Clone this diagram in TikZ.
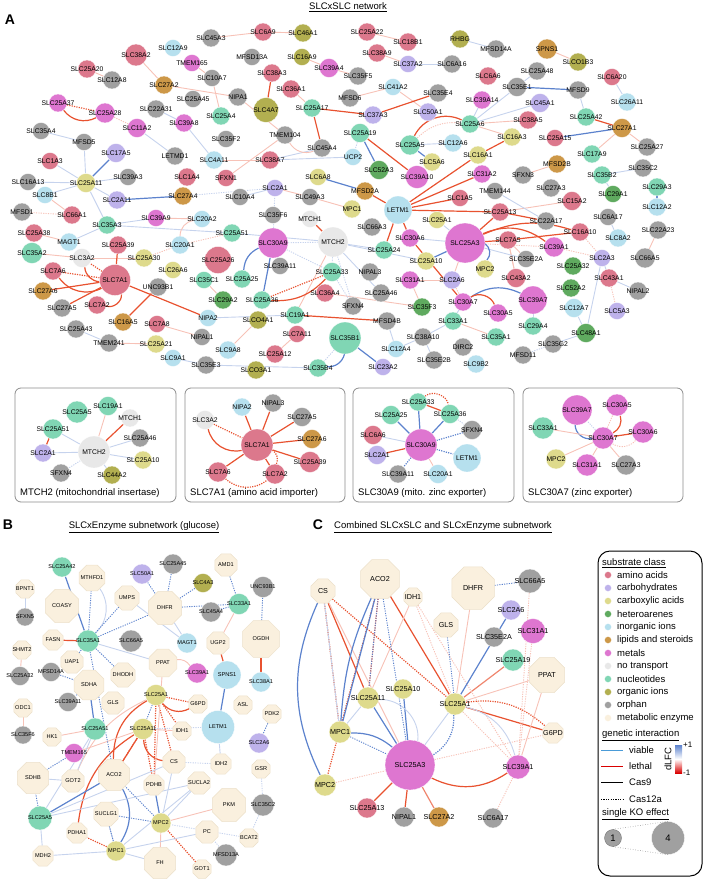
\documentclass[tikz,border=0pt]{standalone}
\usepackage{fontspec}
\setmainfont{Liberation Sans}
\usetikzlibrary{shapes.geometric,backgrounds}
\definecolor{caa}{RGB}{220,120,140}
\definecolor{cch}{RGB}{190,178,235}
\definecolor{cca}{RGB}{222,218,140}
\definecolor{cha}{RGB}{95,170,95}
\definecolor{cii}{RGB}{182,224,238}
\definecolor{cls}{RGB}{205,152,72}
\definecolor{cme}{RGB}{222,118,208}
\definecolor{cnt}{RGB}{232,232,232}
\definecolor{cnu}{RGB}{128,214,180}
\definecolor{coi}{RGB}{178,175,80}
\definecolor{cor}{RGB}{160,160,160}
\definecolor{cen}{RGB}{250,240,222}
\definecolor{cenb}{RGB}{236,224,202}
\definecolor{vblue}{RGB}{92,130,205}
\definecolor{lred}{RGB}{232,82,48}
\begin{document}
\begin{tikzpicture}[x=1pt, y=-1pt,
  dot/.style={circle, inner sep=0pt, draw=white, line width=0.3pt},
  enz/.style={regular polygon, regular polygon sides=8, inner sep=0pt,
    fill=cen, draw=cenb, line width=0.5pt},
  lbla/.style={inner sep=0pt, font=\fontsize{6.8}{7}\selectfont},
  lblb/.style={inner sep=0pt, font=\fontsize{5.6}{6}\selectfont},
  lblc/.style={inner sep=0pt, font=\fontsize{7.2}{8}\selectfont},
  txt/.style={inner sep=0pt, font=\fontsize{9.5}{11}\selectfont},
  tag/.style={inner sep=0pt, font=\fontsize{14}{16}\selectfont\bfseries},
  vst/.style={draw=vblue, line width=1.2pt},
  vlt/.style={draw=vblue!35, line width=0.9pt},
  lst/.style={draw=lred, line width=1.2pt},
  llt/.style={draw=lred!35, line width=0.9pt},
  lmd/.style={draw=lred!70, line width=1.2pt},
  cas/.style={dash pattern=on 1.2pt off 1.2pt},
  inset/.style={draw=black!45, line width=0.8pt, rounded corners=6pt}
]
\useasboundingbox (0,0) rectangle (705,880);

\node[tag] (tagA) at (10,20) {A};
\node[txt] (titleA) at (348,7) {\underline{SLCxSLC network}};

\foreach \t/\x/\y/\c/\s in {
SLC45A3/211/38/cor/18, SLC12A9/173/48/cii/17, SLC38A2/136/55/caa/22,
TMEM165/192/63/cme/17, SLC25A20/87/69/caa/18, SLC12A8/112/80/cor/18,
SLC10A7/212/78/cor/17, SLC27A2/164/85/cls/18, SLC25A45/193/99/cor/17,
NIPA1/238/97/cor/18, SLC25A37/58/103/cme/18, SLC25A28/105/113/cme/20,
SLC22A31/156/109/cor/18, SLC39A8/184/123/cme/18, SLC25A4/221/116/cnu/18,
SLC11A2/137/128/cme/19, SLC35A4/41/131/cor/17, MFSD5/84/142/cor/17,
SLC17A5/116/153/cch/19, LETMD1/175/156/cor/18, SLC35F2/226/139/cor/17,
SLC1A3/50/161/caa/17, SLC4A11/214/160/cii/18, SLC1A4/187/177/caa/18,
SFXN1/226/178/caa/17, SLC16A13/28/182/cor/17, SLC25A11/86/183/cca/19,
SLC39A3/128/177/cor/17, SLC8B1/45/195/cii/17, SLC2A11/117/200/cch/18,
SLC27A4/183/196/cls/18,
SLC6A9/263/32/caa/18, SLC46A1/303/33/coi/18, SLC25A22/367/32/caa/18,
SLC18B1/408/42/caa/18, RHBG/460/39/coi/18, MFSD13A/252/57/cor/17,
SLC16A9/302/57/coi/17, SLC38A9/377/53/caa/18, SLC37A2/408/64/cch/17,
SLC6A16/452/64/cor/18, SLC38A3/272/73/caa/18, SLC39A4/329/68/cme/19,
SLC35F5/358/76/cor/18, SLC36A1/291/89/caa/18, SLC41A2/393/87/cii/17,
SLC35E4/438/93/cor/18, MFSD6/350/98/cor/18, SLC4A7/266/110/coi/25,
SLC25A17/312/108/cnu/18, SLC37A3/373/115/cch/18, SLC50A1/428/112/cch/18,
TMEM104/285/135/cor/18, SLC25A19/360/133/cnu/19, SLC45A4/322/148/cor/18,
SLC25A5/410/145/cnu/20, SLC12A6/453/143/cii/18, SLC38A7/270/160/caa/18,
UCP2/353/157/cii/17, SLC5A6/432/162/cca/18, SLC52A3/379/170/cha/19,
SLC6A8/318/177/cca/17, SLC39A10/417/177/cme/23, SLC2A1/275/188/cch/17,
SLC49A3/310/197/cor/17, MFSD2A/365/191/cls/18,
MFSD14A/496/49/cor/18, SPNS1/547/49/cls/20, SLCO1B3/578/62/coi/18,
SLC6A6/488/76/caa/18, SLC25A48/537/71/cor/18, SLC6A20/612/77/caa/17,
SLC35E1/517/87/cor/19, MFSD9/578/90/cor/18, SLC39A14/482/100/cme/18,
SLC45A1/540/103/cch/19, SLC26A11/627/102/cii/18, SLC25A6/470/124/cnu/18,
SLC38A5/528/120/caa/18, SLC25A42/586/117/cnu/18, SLC27A1/622/128/cls/19,
SLC16A3/512/137/cca/18, SLC25A15/555/138/caa/17, SLC25A27/647/147/cor/18,
SLC16A1/478/155/cca/18, SLC17A9/592/154/cnu/18, SLC31A2/482/174/cme/18,
SFXN3/523/175/cor/18, MFSD2B/557/164/cls/18, SLC35B2/602/175/cnu/18,
SLC35C2/643/168/cor/18, TMEM144/495/191/cor/17, SLC27A3/551/188/cor/18,
SLC29A1/613/194/cha/17, SLC29A3/657/187/cnu/18, SLC15A2/572/201/caa/19,
MFSD1/22/212/cor/18, SLC66A1/72/215/caa/18, SLC35A3/107/225/cnu/18,
SLC39A9/156/218/cme/17, SLC20A2/202/219/cii/17, SLC25A38/34/233/caa/18,
MAGT1/69/242/cii/18, SLC25A39/118/245/caa/18, SLC20A1/180/245/cii/18,
SLC25A51/232/233/cnu/18, SLC35A2/32/253/cnu/21, SLC3A2/82/258/cnt/19,
SLC25A30/144/258/cca/18, SLC25A26/218/260/caa/27, SLC7A6/53/271/caa/18,
SLC7A1/115/280/caa/31, SLC26A6/173/270/cca/17, SLC35C1/204/280/cnu/17,
UNC93B1/158/287/cor/18, SLC27A6/43/291/cls/18, SLC29A2/223/300/cha/18,
SLC27A5/62/308/cor/18, SLC7A2/97/305/caa/18, NIPA2/208/318/cii/17,
SLC16A5/123/322/cls/18, SLC7A8/157/324/caa/17, SLC25A43/76/329/cor/18,
NIPAL1/202/337/cor/17, TMEM241/109/343/cor/18, SLC25A21/156/344/cca/18,
SLC9A8/228/350/cii/18, SLC9A1/173/358/cii/17, SLC35E3/206/365/cor/18,
SLC10A4/240/197/cor/17, SLC35F6/273/215/cor/17, MTCH1/310/219/cnt/17,
MPC1/352/209/cca/18, LETM1/398/210/cii/28, SLC66A3/372/227/cor/18,
SLC1A5/460/198/caa/17, SLC25A1/437/220/cca/17, SLC30A9/273/243/cme/30,
MTCH2/333/242/cnt/30, SLC30A6/410/238/cme/18, SLC25A3/465/243/cme/40,
SLC25A24/384/250/cnu/18, SLC25A10/426/261/cca/18, SLC39A11/280/266/cor/17,
SLC25A25/242/279/cnu/18, SLC25A33/332/272/cnu/19, NIPAL3/370/272/cor/18,
SLC31A1/410/280/cme/18, SLC2A6/452/280/cch/18, SLC25A46/381/293/cor/18,
SLC36A4/325/293/caa/18, SLC25A36/262/300/cnu/18, SFXN4/353/306/cor/18,
SLC35F3/422/307/cha/18, SLC30A7/463/302/cme/18, SLC19A1/295/315/cnu/18,
SLCO4A1/258/320/coi/18, MFSD4B/387/321/cor/18, SLC33A1/453/321/cnu/18,
SLC7A11/297/334/caa/17, SLC35B1/345/338/cnu/32, SLC38A10/423/337/cor/18,
DIRC2/463/347/cor/18, SLC25A12/275/354/caa/18, SLC12A4/396/349/cii/17,
SLC35E2B/434/360/cor/18, SLCO3A1/256/370/coi/18, SLC35B4/318/368/cnu/18,
SLC23A2/383/367/cch/17,
SLC12A2/657/207/cii/18, SLC25A13/500/212/caa/18, SLC22A17/546/221/cor/18,
SLC6A17/608/217/cor/17, SLC22A23/658/230/cor/18, SLC16A10/580/232/caa/18,
SLC7A5/508/240/caa/18, SLC8A2/618/238/cii/18, SLC39A1/554/247/cme/20,
SLC35E2A/526/259/cor/17, SLC2A3/602/258/cch/17, SLC66A5/645/258/cor/20,
MPC2/485/269/cca/18, SLC25A32/573/266/cha/18, SLC43A2/516/278/caa/19,
SLC43A1/609/278/caa/18, SLC52A2/571/288/cha/18, NIPAL2/638/291/cor/18,
SLC39A7/533/300/cme/28, SLC12A7/574/308/cii/19, SLC30A5/498/313/cme/18,
SLC5A3/617/311/cch/17, SLC29A4/533/326/cnu/18, SLC35A1/496/337/cnu/18,
SLC48A1/586/333/cha/19, SLC35G2/553/344/cor/18, MFSD11/523/355/cor/18,
SLC9B2/476/364/cii/18}
  \node[dot, fill=\c, minimum size=\s, label={[lbla]center:\t}] (a-\t) at (\x,\y) {};

\draw[inset] (15,388) rectangle (176,502);
\draw[inset] (185,388) rectangle (345,502);
\draw[inset] (353,388) rectangle (514,502);
\draw[inset] (523,388) rectangle (683,502);
\node[txt, anchor=west] (cap1) at (20,493) {MTCH2 (mitochondrial insertase)};
\node[txt, anchor=west] (cap2) at (190,493) {SLC7A1 (amino acid importer)};
\node[txt, anchor=west] (cap3) at (358,493) {SLC30A9 (mito. zinc exporter)};
\node[txt, anchor=west] (cap4) at (528,493) {SLC30A7 (zinc exporter)};

\foreach \t/\x/\y/\c/\s in {
SLC19A1/108/406/cnu/19, SLC25A5/77/412/cnu/22, MTCH1/130/418/cnt/18,
SLC25A51/53/429/cnu/20, SLC25A46/140/438/cor/18, SLC2A1/43/453/cch/18,
MTCH2/94/452/cnt/32, SLC25A10/143/460/cca/18, SFXN4/61/473/cor/18,
SLC44A2/112/475/coi/18}
  \node[dot, fill=\c, minimum size=\s, label={[lbla]center:\t}] (i1-\t) at (\x,\y) {};
\foreach \t/\x/\y/\c/\s in {
NIPA2/242/407/cii/18, NIPAL3/273/403/cor/18, SLC3A2/205/420/cnt/19,
SLC27A5/302/417/cor/19, SLC7A1/257/445/caa/32, SLC27A6/312/439/cls/19,
SLC25A39/310/462/caa/21, SLC7A6/218/472/caa/20, SLC7A2/275/474/caa/20}
  \node[dot, fill=\c, minimum size=\s, label={[lbla]center:\t}] (i2-\t) at (\x,\y) {};
\foreach \t/\x/\y/\c/\s in {
SLC25A33/418/402/cnu/18, SLC25A25/391/415/cnu/19, SLC25A36/450/414/cnu/19,
SFXN4/472/430/cor/19, SLC6A6/373/435/caa/19, SLC30A9/421/445/cme/32,
SLC2A1/377/455/cch/19, LETM1/467/458/cii/28, SLC39A11/398/474/cor/18,
SLC20A1/438/474/cii/19}
  \node[dot, fill=\c, minimum size=\s, label={[lbla]center:\t}] (i3-\t) at (\x,\y) {};
\foreach \t/\x/\y/\c/\s in {
SLC39A7/577/410/cme/30, SLC30A5/617/405/cme/22, SLC33A1/543/428/cnu/22,
SLC30A7/603/438/cme/22, SLC30A6/643/432/cme/22, MPC2/556/459/cca/20,
SLC31A1/587/465/cme/22, SLC27A3/626/465/cor/20}
  \node[dot, fill=\c, minimum size=\s, label={[lbla]center:\t}] (i4-\t) at (\x,\y) {};

\node[tag] (tagB) at (8,525) {B};
\node[txt] (titleB) at (144,527) {\underline{SLCxEnzyme subnetwork (glucose)}};
\foreach \t/\x/\y/\c/\s in {
SLC25A42/62/567/cnu/20, SLC25A45/173/564/cor/20, SLC50A1/142/574/cch/20,
SLC4A3/203/583/coi/19, UNC93B1/263/587/cor/21, SLC33A1/239/604/cnu/21,
SLC45A4/211/612/cor/20, SFXN5/25/617/cor/18, SLC35A1/88/641/cnu/22,
SLC66A5/131/641/cor/22, MAGT1/187/643/cii/20, SLC25A32/20/676/cor/19,
MFSD14A/51/672/cor/19, SLC39A1/197/673/cme/20, SPNS1/227/675/cii/28,
SLC38A1/261/682/cii/20, SLC25A1/156/695/cca/21, SLC39A11/68/702/cor/19,
SLC25A11/143/729/cca/21, LETM1/218/727/cii/33, SLC25A51/95/729/cnu/22,
SLC35F6/23/735/cor/18, SLC2A6/259/743/cch/20, TMEM165/74/753/cme/19,
SLC35C2/263/805/cor/22, SLC25A5/40/818/cnu/24, MPC2/161/823/cca/20,
MPC1/116/851/cca/20, MFSD13A/226/855/cor/22}
  \node[dot, fill=\c, minimum size=\s, label={[lblb]center:\t}] (b-\t) at (\x,\y) {};
\foreach \t/\x/\y/\s in {
MTHFD1/92/578/28, AMD1/226/565/24, BPNT1/25/589/20, COASY/62/606/36,
UMPS/127/598/26, DHFR/165/608/36, FASN/53/640/22, UGP2/218/643/24,
OGDH/261/639/40, SHMT2/22/650/20, UAP1/72/662/24, PPAT/163/663/30,
DHODH/123/675/26, SDHA/89/685/32, G6PD/198/704/20, ASL/243/705/20,
PDK2/272/714/20, GLS/113/703/24, ODC1/23/708/20, IDH1/182/731/20,
HK1/52/737/20, CS/174/762/24, IDH2/221/764/22, GSR/261/769/20,
SDHB/33/778/34, GOT2/73/781/24, ACO2/114/775/34, PDHB/154/785/22,
SUCLA2/199/783/24, PKM/229/805/36, SUCLG1/106/814/26, PDHA1/77/833/22,
PC/207/832/24, BCAT2/249/838/20, MDH2/43/856/22, FH/160/863/34, GOT1/202/869/20}
  \node[enz, minimum size=\s, label={[lblb]center:\t}] (b-\t) at (\x,\y) {};

\node[tag] (tagC) at (318,525) {C};
\node[txt] (titleC) at (443,527) {\underline{Combined SLCxSLC and SLCxEnzyme subnetwork}};
\foreach \t/\x/\y/\c/\s in {
SLC66A5/530/581/cor/24, SLC2A6/511/610/cch/20, SLC35E2A/494/637/cor/20,
SLC31A1/533/631/cme/25, SLC25A19/513/660/cnu/22, SLC25A10/403/689/cca/20,
SLC25A11/368/698/cca/22, SLC25A1/455/704/cca/22, SLC25A3/410/765/cme/50,
SLC39A1/518/767/cme/24, SLC25A13/367/808/caa/20, NIPAL1/404/817/cor/20,
SLC27A2/439/817/cls/20, SLC6A17/493/818/cor/20, MPC1/340/732/cca/22,
MPC2/325/785/cca/22}
  \node[dot, fill=\c, minimum size=\s, label={[lblc]center:\t}] (c-\t) at (\x,\y) {};
\foreach \t/\x/\y/\s in {
CS/323/591/26, ACO2/380/579/42, IDH1/413/597/20, DHFR/473/588/46,
GLS/446/625/26, PPAT/547/675/38, G6PD/553/733/22}
  \node[enz, minimum size=\s, label={[lblc]center:\t}] (c-\t) at (\x,\y) {};

\draw[line width=1pt, rounded corners=12pt] (598,551) rectangle (702,876);
\node[txt, anchor=west] (keyhead) at (602,563) {\underline{substrate class}};
\foreach \c/\t [count=\i] in {caa/amino acids, cch/carbohydrates,
  cca/carboxylic acids, cha/heteroarenes, cii/inorganic ions,
  cls/lipids and steroids, cme/metals, cnt/no transport, cnu/nucleotides,
  coi/organic ions, cor/orphan, cen/metabolic enzyme} {
  \node[dot, fill=\c, minimum size=7] (key\i) at (608,562+13*\i) {};
  \node[txt, anchor=west] (keyt\i) at (617,562+13*\i) {\t};
}
\node[txt, anchor=west] (gihead) at (602,735) {\underline{genetic interaction}};
\coordinate (v0) at (601,750); \coordinate (v1) at (623,750);
\coordinate (l0) at (601,766); \coordinate (l1) at (623,766);
\coordinate (k0) at (601,782); \coordinate (k1) at (623,782);
\coordinate (d0) at (601,799); \coordinate (d1) at (623,799);
\draw[draw=vblue!80!cyan, line width=1pt] (v0) -- (v1);
\draw[draw=red!85!black, line width=1pt] (l0) -- (l1);
\draw[line width=1pt] (k0) -- (k1);
\draw[line width=1pt, cas] (d0) -- (d1);
\node[txt, anchor=west] (vtxt) at (629,750) {viable};
\node[txt, anchor=west] (ltxt) at (629,766) {lethal};
\node[txt, anchor=west] (ktxt) at (629,782) {Cas9};
\node[txt, anchor=west] (dtxt) at (629,799) {Cas12a};
\shade[top color=vblue, bottom color=red!85!black, middle color=white] (675,745) rectangle (682,773);
\node[txt, rotate=90] (dlfc) at (668,759) {dLFC};
\node[txt, anchor=west, font=\fontsize{8}{9}\selectfont] (pone) at (683,745) {+1};
\node[txt, anchor=west, font=\fontsize{8}{9}\selectfont] (mone) at (683,773) {-1};
\node[txt, anchor=west] (kohead) at (602,814) {\underline{single KO effect}};
\node[dot, fill=cor, draw=black!60, minimum size=17] (ko1) at (613,838) {};
\node[txt] at (ko1) {1};
\node[dot, fill=cor, minimum size=33] (ko4) at (668,838) {};
\node[txt] at (ko4) {4};
\draw[black!60, line width=0.5pt, dotted] (ko1.north) -- (ko4.north);
\draw[black!60, line width=0.5pt, dotted] (ko1.south) -- (ko4.south);

\begin{pgfonlayer}{background}
\foreach \u/\v in {SLC45A3/SLC6A9, SLC6A9/SLC46A1, SLC38A2/SLC27A2,
  SLC25A20/SLC12A8, TMEM165/SLC10A7, SLC10A7/SLC25A4, SLC27A2/NIPA1,
  NIPA1/TMEM104, SLC25A22/SLC18B1, SLC38A9/SLC37A2, SLC16A9/SLC39A4,
  SLC39A4/SLC35F5, SLC36A1/SLC25A17, SLC41A2/MFSD6, SLC41A2/SLC50A1,
  TMEM104/SFXN1, SLC4A11/SLC38A7, SPNS1/SLCO1B3, SLC25A6/SLC38A5,
  SLC25A6/SLC16A3, SLC27A1/SLC25A27, SLC27A1/SLC17A9, SFXN3/MFSD2B,
  SLC2A1/SLC49A3, SLC3A2/SLC25A30, SLC35A2/SLC3A2, SLC25A38/MAGT1,
  SLC39A9/SLC20A2, SLC7A8/NIPAL1, TMEM241/SLC25A21, SLC66A1/SLC8B1,
  SLC35C1/SLC29A2, SLC31A1/SLC2A6, SLC36A4/SLC35F3, SLCO4A1/SLC9A8,
  SLC22A23/SLC66A5, SLC7A5/SLC43A2, SLC35A1/SLC33A1, SLC25A13/SLC15A2,
  SLC49A3/MPC1, MTCH2/SLC19A1, SLC7A11/SLC25A12, SLC35F3/SLC31A1,
  SLC43A2/SLC7A5, SLC25A3/SLC2A6, SLC7A5/SLC35E2A}
  \draw[llt] (a-\u) -- (a-\v);
\foreach \u/\v in {SLC38A3/SLC4A7, SLC25A17/SLC37A3, SLC25A17/SLC45A4,
  SLC35E4/SLC37A3, SLC25A19/SLC39A10, SLC25A42/SLC27A1, SLC16A3/SLC16A1,
  SLC16A1/LETM1, MFSD2A/LETM1, LETM1/SLC31A2, LETM1/SLC1A5, LETM1/SLC25A13,
  LETM1/SLC30A6, LETM1/SLC25A24, SLC25A3/SLC25A13, SLC25A3/SLC7A5,
  SLC25A13/SLC22A17, SLC7A5/SLC16A10, SLC19A1/MFSD4B, MTCH2/MTCH1,
  SLC7A1/SLC27A6, SLC7A1/SLC27A5, SLC7A1/SLC25A39, SLC7A1/NIPA2,
  SLC16A5/UNC93B1, SLC30A6/SLC30A7}
  \draw[lst] (a-\u) -- (a-\v);
\foreach \u/\v in {SLC35E1/MFSD9, SLC27A1/SLC25A15, SLC25A19/SLC52A3,
  SLC25A5/SLC5A6, SLC6A8/MFSD2A, SLC17A5/SLC25A11, SLC27A4/SLC2A11,
  SLC30A9/SLC25A36, SLC35B1/SLC23A2, SLC25A10/SLC25A3, SLC29A3/SLC12A2}
  \draw[vst] (a-\u) -- (a-\v);
\foreach \u/\v in {SLC35E1/SLC25A48, SLC35E1/SLC25A6, SLC25A6/SLC39A14,
  SLC25A6/SLC45A1, SLC6A20/SLC26A11, MFSD9/SLC25A42, SLC35B2/SLC35C2,
  SLC35B2/SLC29A1, RHBG/MFSD14A, SLC37A2/SLC6A16, SLC38A7/UCP2,
  SLC22A31/SLC39A8, SLC11A2/LETMD1, SLC39A8/SLC4A11, SLC35A4/MFSD5,
  MFSD5/SLC25A11, SLC1A3/SLC25A11, SLC16A13/SLC25A11, SLC39A3/SLC25A11,
  SLC8B1/SLC25A11, SLC2A11/SLC25A11, SLC25A11/SLC35A3, MAGT1/SLC35A3,
  SLC25A43/TMEM241, SLC9A1/SLC35E3, SLC35E3/SLC35B4, NIPA2/SLC19A1,
  SLC30A9/SLC39A11, MTCH2/SLC25A46, MTCH2/SLC25A10, MTCH2/SLC25A51,
  SLC38A10/SLC35E2B, SLC38A10/SLC12A4, MFSD4B/SLC12A4, SLC39A7/SLC29A4,
  SLC12A7/SLC48A1, SLC48A1/SLC35G2, SLC48A1/SLC2A3, SLC2A3/SLC43A1,
  SLC43A1/NIPAL2, SLC6A17/SLC8A2, SLC38A10/SLC33A1, SLC25A1/SLC25A3,
  SLC12A6/SLC25A5, TMEM144/SLC22A17, SLC35A3/SLC39A9, SLC35A3/SLC25A51,
  MTCH2/SLC25A24, SLC38A7/SLC45A4, SLC2A1/SLC10A4, SLC25A3/SLC30A6,
  SLC30A7/SLC33A1, SLC25A3/SLC35E2A}
  \draw[vlt] (a-\u) -- (a-\v);
\foreach \u/\v in {SLC25A28/SLC11A2, MFSD1/SLC66A1, SLC43A1/SLC5A3,
  SLC20A1/SLC25A51, SLC25A3/SLC39A1, SLC16A10/SLC2A3, SLC39A1/SLC2A3,
  SLC2A6/SLC30A7, SLC25A30/SLC20A1}
  \draw[llt, cas] (a-\u) -- (a-\v);
\foreach \u/\v in {SLC7A1/SLC3A2, SLC7A1/SLC7A6, SLC25A37/SLC25A28,
  SLC25A33/SLC25A36}
  \draw[lst, cas] (a-\u) -- (a-\v);
\foreach \u/\v in {SLC30A9/SLC2A1, SLC30A9/MTCH2, MTCH2/SFXN4,
  SLC35G2/MFSD11, MTCH2/SLC25A33, SLC25A19/UCP2, SLC30A9/SLC25A33,
  SLC27A4/SLC2A1, SLC25A33/SFXN4, SLC35B1/SLC35B4}
  \draw[vlt, cas] (a-\u) -- (a-\v);
\draw[lst] (a-SLC25A37) to[bend right=40] (a-SLC25A28);
\draw[lst] (a-SLC7A6) to[bend right=40] (a-SLC7A1);
\draw[lst] (a-SLC7A1) to[bend left=60] (a-SLC7A2);
\draw[lst] (a-SLC3A2) to[bend right=40] (a-SLC7A1);
\draw[lst] (a-SLC25A33) to[bend left=25] (a-SLC25A36);
\draw[vst] (a-SLC30A9) to[bend right=30] (a-SLC25A25);
\draw[vst] (a-SLC35B1) to[bend left=40] (a-SLC35B4);
\draw[vst] (a-SLC30A7) to[bend left=30] (a-SLC39A7);
\draw[lst] (a-SLC30A7) to[bend left=50] (a-SLC30A5);
\draw[vst] (a-SLC25A3) to[bend left=50] (a-MPC2);
\draw[lst] (a-SLC25A3) to[bend left=20] (a-SLC16A10);
\draw[lst] (a-SLC25A3) to[bend left=30] (a-SLC39A1);
\draw[lst] (a-SLC25A5) to[bend left=45] (a-SLC25A6);
\draw[llt, cas] (a-SLC25A5) to[bend left=25] (a-SLC25A6);
\draw[llt] (a-TMEM104) to[bend right=40] (a-SLC45A4);
\draw[llt] (a-SLC20A2) to[bend right=40] (a-SLC20A1);

\draw[lst] (i1-MTCH2) -- (i1-MTCH1);
\draw[lst] (i1-SLC25A51) -- (i1-SLC2A1);
\draw[llt] (i1-MTCH2) -- (i1-SLC19A1);
\foreach \v in {SLC25A46, SLC25A10, SLC25A51, SLC2A1, SLC44A2}
  \draw[vlt] (i1-MTCH2) -- (i1-\v);
\draw[vlt, cas] (i1-MTCH2) -- (i1-SFXN4);

\foreach \v in {NIPA2, NIPAL3, SLC27A5, SLC27A6, SLC25A39, SLC7A2, SLC7A6}
  \draw[lst] (i2-SLC7A1) -- (i2-\v);
\draw[lst, cas] (i2-SLC3A2) -- (i2-SLC7A1);
\draw[lst] (i2-SLC3A2) to[bend right=45] (i2-SLC7A1);
\draw[lst, cas] (i2-SLC7A6) to[bend right=40] (i2-SLC7A2);
\draw[lst, cas] (i2-SLC7A1) to[bend left=40] (i2-SLC7A2);

\foreach \v in {SLC25A33, SLC25A25, SLC25A36}
  \draw[vst] (i3-SLC30A9) -- (i3-\v);
\draw[vlt] (i3-SLC30A9) -- (i3-SLC6A6);
\draw[lst] (i3-SLC30A9) -- (i3-SLC2A1);
\draw[llt] (i3-SLC30A9) -- (i3-SLC20A1);
\foreach \v in {SLC39A11, LETM1, SFXN4}
  \draw[vst, cas] (i3-SLC30A9) -- (i3-\v);
\draw[lst] (i3-SLC25A33) -- (i3-SLC25A36);
\draw[lst, cas] (i3-SLC25A33) to[bend left=60] (i3-SLC25A36);
\draw[vlt, cas] (i3-SLC25A36) -- (i3-SFXN4);

\draw[vst] (i4-SLC30A7) to[bend left=50] (i4-SLC39A7);
\draw[vlt, cas] (i4-SLC30A7) -- (i4-SLC39A7);
\draw[lst] (i4-SLC30A7) to[bend right=40] (i4-SLC30A5);
\draw[llt, cas] (i4-SLC30A7) -- (i4-SLC30A5);
\draw[lst] (i4-SLC30A7) -- (i4-SLC30A6);
\draw[llt, cas] (i4-SLC30A7) to[bend right=40] (i4-SLC30A6);
\foreach \v in {SLC33A1, MPC2, SLC31A1, SLC27A3}
  \draw[llt] (i4-SLC30A7) -- (i4-\v);

\foreach \u/\v in {FASN/SLC35A1, UGP2/SPNS1, OGDH/SLC38A1, SLC25A11/ACO2}
  \draw[lst] (b-\u) -- (b-\v);
\draw[lst] (b-SLC25A1) to[bend right=40] (b-G6PD);
\draw[lst] (b-SLC25A1) to[bend right=30] (b-ACO2);
\draw[lst] (b-SLC25A11) to[bend right=40] (b-CS);
\draw[lst] (b-SLC25A11) to[bend right=25] (b-PDHA1);
\foreach \u/\v in {SLC25A1/G6PD, SLC25A1/CS, SLC25A1/IDH1, SLC25A11/PDHB,
  MPC2/GOT1, MPC1/PDHA1, SLC25A1/PDHB, SLC25A11/ACO2}
  \draw[lst, cas] (b-\u) -- (b-\v);
\foreach \u/\v in {SHMT2/SLC25A32, ODC1/SLC35F6, HK1/SLC25A51, SLC33A1/UGP2,
  SLC25A11/IDH1, MPC2/PKM, PPAT/PDHB, TMEM165/SLC25A11, MPC2/FH}
  \draw[llt] (b-\u) -- (b-\v);
\draw[llt] (b-PPAT) to[bend left=30] (b-SLC39A1);
\draw[llt] (b-GOT2) to[bend left=20] (b-SLC25A1);
\foreach \u/\v in {SLC25A42/SLC35A1, SPNS1/LETM1, SLC25A51/SDHA,
  MPC2/PDHB, SLC25A5/ACO2}
  \draw[vst] (b-\u) -- (b-\v);
\draw[vst] (b-MPC1) to[bend right=30] (b-ACO2);
\draw[vlt] (b-SLC35A1) to[bend right=40] (b-MTHFD1);
\foreach \u/\v in {BPNT1/SFXN5, UMPS/MAGT1, DHFR/MAGT1, LETM1/IDH2,
  SLC25A51/SLC25A5, SLC25A5/MDH2, SLC25A5/CS, SLC25A5/SUCLA2, MPC1/MDH2,
  MPC1/FH, MPC1/PC, MPC1/SUCLA2, MPC2/SUCLA2, SDHB/GOT2, MPC2/CS,
  SLC35A1/PPAT, SLC25A51/GOT2, MPC1/SUCLG1}
  \draw[vlt] (b-\u) -- (b-\v);
\foreach \u/\v in {SLC35A1/UMPS, SLC35A1/DHFR, SLC50A1/DHFR, SLC25A45/DHFR,
  SLC4A3/DHFR, DHFR/SLC33A1, SLC45A4/SLC33A1, AMD1/SLC33A1, UNC93B1/OGDH,
  TMEM165/SDHB, SLC25A5/SDHB, MPC1/SUCLG1, PDK2/SLC2A6, MPC2/ACO2,
  SLC35A1/MTHFD1, SDHA/SLC39A11, SLC35A1/DHODH, SLC35A1/UAP1,
  MFSD14A/SDHA, MPC2/SUCLG1, SLC25A1/SLC25A11, SLC35A1/ACO2}
  \draw[vst, cas, line width=0.9pt] (b-\u) -- (b-\v);
\foreach \u/\v in {SLC35C2/GSR, SLC35C2/BCAT2, MFSD13A/PC, BCAT2/MPC2,
  LETM1/SLC25A11, IDH2/CS}
  \draw[vlt, cas] (b-\u) -- (b-\v);

\foreach \u/\v in {CS/SLC25A11, ACO2/SLC25A1, SLC25A1/G6PD,
  SLC25A3/SLC25A13, SLC25A3/NIPAL1}
  \draw[lst] (c-\u) -- (c-\v);
\draw[lst] (c-SLC25A3) to[bend right=30] (c-SLC39A1);
\draw[lmd] (c-SLC25A19) -- (c-SLC25A1);
\draw[lmd] (c-SLC25A3) -- (c-SLC27A2);
\foreach \u/\v in {CS/SLC25A1, CS/MPC1, ACO2/SLC25A11, ACO2/MPC2}
  \draw[lst, cas] (c-\u) -- (c-\v);
\draw[lst, cas] (c-SLC25A1) to[bend left=25] (c-G6PD);
\foreach \u/\v in {IDH1/SLC25A11, DHFR/SLC25A1, PPAT/SLC25A1, PPAT/SLC39A1,
  CS/SLC25A3}
  \draw[llt] (c-\u) -- (c-\v);
\foreach \u/\v in {IDH1/SLC39A1, MPC2/SLC25A3, SLC25A3/G6PD,
  SLC39A1/SLC6A17, SLC66A5/SLC39A1, SLC31A1/SLC39A1, SLC25A1/SLC39A1,
  IDH1/SLC25A1}
  \draw[llt, cas] (c-\u) -- (c-\v);
\foreach \u/\v in {SLC25A10/SLC25A3, SLC25A11/SLC25A3, ACO2/MPC1,
  SLC2A6/SLC25A1}
  \draw[vst] (c-\u) -- (c-\v);
\draw[vst] (c-CS) to[bend right=25] (c-MPC2);
\draw[vst] (c-MPC1) to[bend left=20] (c-SLC25A3);
\draw[vst] (c-ACO2) to[bend right=10] (c-MPC1);
\foreach \u/\v in {SLC25A1/SLC25A3, CS/MPC1, SLC25A11/MPC1}
  \draw[vlt] (c-\u) -- (c-\v);
\draw[vlt] (c-SLC25A1) to[bend left=30] (c-SLC39A1);
\draw[vlt] (c-SLC25A11) to[bend left=50] (c-SLC25A3);
\draw[vst, cas] (c-SLC25A1) to[bend left=30] (c-SLC25A3);
\foreach \u/\v in {DHFR/SLC66A5, ACO2/SLC25A3, ACO2/SLC25A11, GLS/SLC25A1,
  MPC1/SLC25A3}
  \draw[vst, cas, line width=0.9pt] (c-\u) -- (c-\v);
\end{pgfonlayer}
\end{tikzpicture}
\end{document}
